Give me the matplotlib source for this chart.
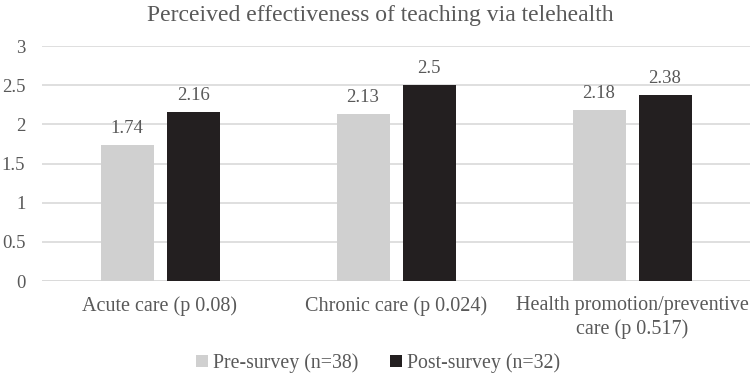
import numpy as np
import matplotlib
matplotlib.use("Agg")
from matplotlib import pyplot as plt

categories = ["Acute care (p 0.08)", "Chronic care (p 0.024)", "Health promotion/preventive\ncare (p 0.517)"]
pre_values = [1.74, 2.13, 2.18]
post_values = [2.16, 2.5, 2.38]
series_names = ["Pre-survey (n=38)", "Post-survey (n=32)"]
y_ticks = [0, 0.5, 1, 1.5, 2, 2.5, 3]
y_tick_labels = ["0", "0.5", "1", "1.5", "2", "2.5", "3"]

text_color = "#595959"
plt.rcParams["font.family"] = ["Liberation Serif", "DejaVu Serif"]

fig = plt.figure(figsize=(7.5, 3.77), dpi=100)
ax = fig.add_axes([42 / 750, 1 - 281 / 377, 708 / 750, 235 / 377])

x = np.arange(len(categories))
w = 53 / 236
off = 33 / 236
b1 = ax.bar(x - off, pre_values, w, color="#D0D0D0", label=series_names[0], zorder=3)
b2 = ax.bar(x + off, post_values, w, color="#231F20", label=series_names[1], zorder=3)

for bars, vals in ((b1, pre_values), (b2, post_values)):
    for r, v in zip(bars, vals):
        ax.text(r.get_x() + r.get_width() / 2, v + 0.1, f"{v:g}", ha="center", va="bottom",
                fontsize=13.5, color=text_color)

ax.set_xlim(-0.5, 2.5)
ax.set_ylim(0, 3)
ax.set_yticks(y_ticks)
ax.set_yticklabels(y_tick_labels)
ax.set_xticks(x)
ax.set_xticklabels(categories, linespacing=1.3)
ax.tick_params(axis="both", length=0, colors=text_color)
ax.tick_params(axis="x", pad=11, labelsize=14.5)
ax.tick_params(axis="y", pad=12, labelsize=13.5)
ax.yaxis.grid(True, color="#D9D9D9", linewidth=1.2, zorder=0)
for s in ax.spines.values():
    s.set_visible(False)
ax.axhline(0, color="#D9D9D9", linewidth=1.2, zorder=2)

fig.text(380 / 750, 1 - 15 / 377, "Perceived effectiveness of teaching via telehealth",
         ha="center", va="center", fontsize=17, color=text_color)

leg = fig.legend(handles=[b1, b2], labels=series_names, loc="center", bbox_to_anchor=(378 / 750, 1 - 363 / 377),
                 ncol=2, frameon=False, fontsize=14.3, handlelength=0.6, handleheight=0.6,
                 handletextpad=0.25, columnspacing=1.6)
for t in leg.get_texts():
    t.set_color(text_color)

fig.savefig("out.png", dpi=100)
